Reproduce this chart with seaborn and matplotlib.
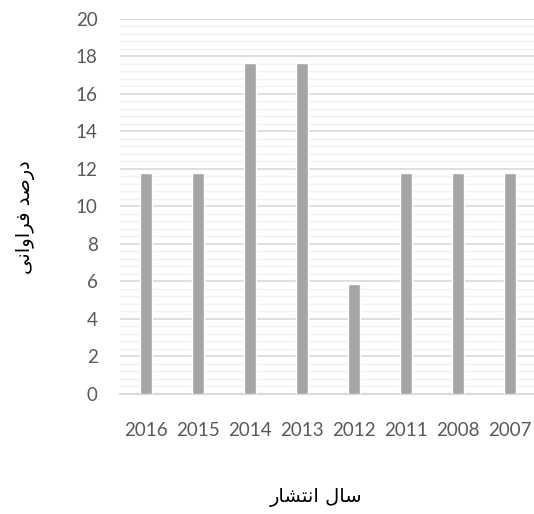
import seaborn as sns
import matplotlib.pyplot as plt
import pandas as pd
from matplotlib.ticker import MultipleLocator

# data
years = ["2016", "2015", "2014", "2013", "2012", "2011", "2008", "2007"]
percent = [11.76, 11.76, 17.65, 17.65, 5.88, 11.76, 11.76, 11.76]

# persian labels, written in presentation forms (matplotlib does no arabic shaping)
x_title = "\uFEAD\uFE8E\uFEB8\uFE98\uFEE7\uFE8D \uFEDD\uFE8E\uFEB3"  # سال انتشار
y_title = "\uFEF0\uFEE7\uFE8D\uFEED\uFE8D\uFEAE\uFED3 \uFEAA\uFEBB\uFEAD\uFEA9"  # درصد فراوانی

df = pd.DataFrame({"year": years, "percent": percent})

sns.set_style("white")
plt.rcParams['font.family'] = ['Lato', 'DejaVu Sans']

fig = plt.figure(figsize=(5.34, 5.14), dpi=100)
ax = fig.add_axes([0.2247, 0.2335, 0.7790, 0.7301])

sns.barplot(x="year", y="percent", data=df, order=years, color="#a5a5a5",
            saturation=1, width=0.245, ax=ax, zorder=3)

ax.set_ylim(0, 20)
ax.yaxis.set_major_locator(MultipleLocator(2))
ax.yaxis.set_minor_locator(MultipleLocator(0.4))
ax.grid(axis="y", which="major", color="#d9d9d9", linewidth=1.2, zorder=0)
ax.grid(axis="y", which="minor", color="#f2f2f2", linewidth=1.0, zorder=0)
ax.set_axisbelow(True)

for s in ["top", "right", "left"]:
    ax.spines[s].set_visible(False)
ax.spines["bottom"].set_color("#d9d9d9")
ax.spines["bottom"].set_linewidth(1.5)

ax.tick_params(axis="both", which="both", length=0, labelsize=13.5, colors="#595959")
ax.tick_params(axis="y", pad=16)
ax.tick_params(axis="x", pad=20)

ax.set_xlabel(x_title, family="DejaVu Sans", fontsize=14, color="black")
ax.set_ylabel(y_title, family="DejaVu Sans", fontsize=14, color="black")
ax.xaxis.set_label_coords(0.472, -0.25)
ax.yaxis.set_label_coords(-0.205, 0.47)

plt.savefig("out.png", dpi=100)
